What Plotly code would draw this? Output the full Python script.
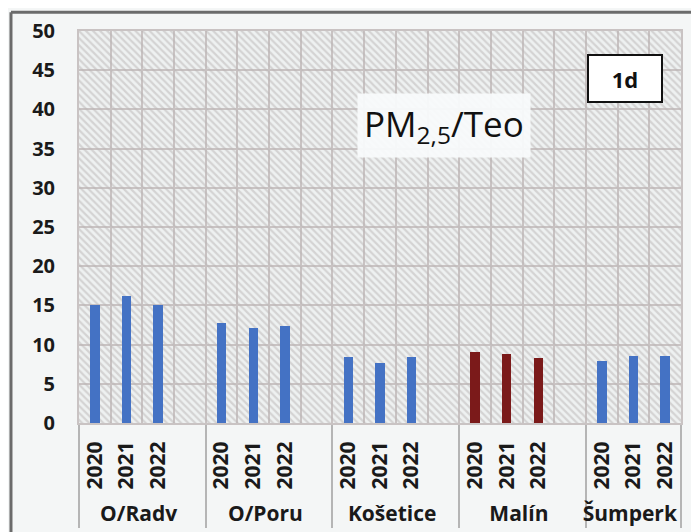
import plotly.graph_objects as go

stations = ["O/Radv", "O/Poru", "Košetice", "Malín", "Šumperk"]
years = ["2020", "2021", "2022"]
radv_vals = [15.1, 16.2, 15.0]
poru_vals = [12.8, 12.1, 12.4]
kosetice_vals = [8.4, 7.6, 8.4]
malin_vals = [9.1, 8.8, 8.3]
sumperk_vals = [7.95, 8.5, 8.5]
station_vals = [radv_vals, poru_vals, kosetice_vals, malin_vals, sumperk_vals]
y_ticks = [0, 5, 10, 15, 20, 25, 30, 35, 40, 45, 50]

BLUE = "#4472C4"
DARK_RED = "#7B1A1A"
station_colors = [BLUE, BLUE, BLUE, DARK_RED, BLUE]

lvl1, lvl2, vals, cols = [], [], [], []
for i, st in enumerate(stations):
    for j, yr in enumerate(years):
        lvl1.append(st); lvl2.append(yr)
        vals.append(station_vals[i][j]); cols.append(station_colors[i])
    if i < len(stations) - 1:
        lvl1.append(st); lvl2.append(" ")
        vals.append(None); cols.append(BLUE)

n = len(lvl1)
GRID = "#c9c3c3"

fig = go.Figure()
# hatched plot background
fig.add_trace(go.Bar(
    x=[lvl1, lvl2], y=[y_ticks[-1]] * n, width=[1.0] * n,
    marker=dict(color="rgba(0,0,0,0)", line=dict(width=0),
                pattern=dict(shape="\\", fgcolor="#bab5b5", size=5,
                             solidity=0.45, fillmode="overlay")),
    hoverinfo="skip", showlegend=False))
fig.add_trace(go.Bar(
    x=[lvl1, lvl2], y=vals, width=0.3,
    marker=dict(color=cols, line=dict(width=0)),
    showlegend=False))

# page body has an 8px margin, so the figure is 8px smaller than the window
fig.update_layout(
    width=691, height=524,
    margin=dict(l=71, r=18, t=23, b=109),
    paper_bgcolor="#f4f6f6", plot_bgcolor="#eef1f1",
    barmode="overlay", bargap=0,
    font=dict(family="Open Sans", color="#1a1a1a"),
)
fig.update_xaxes(
    type="multicategory", range=[-0.5, n - 0.5], automargin=False,
    showgrid=True, gridcolor=GRID, gridwidth=2, tickson="boundaries",
    showline=True, linecolor=GRID, linewidth=2, mirror=True,
    ticks="", tickangle=-90, ticklabelstandoff=8,
    tickfont=dict(family="Open Sans", size=21, color="#1a1a1a", weight="bold"),
    showdividers=True, dividercolor="#b5b5b5", dividerwidth=2,
)
fig.update_yaxes(
    range=[0, 50], tickvals=y_ticks, automargin=False,
    showgrid=True, gridcolor=GRID, gridwidth=2,
    showline=True, linecolor=GRID, linewidth=2, mirror=True,
    zeroline=False, ticks="", ticklabelstandoff=18,
    tickfont=dict(family="Open Sans", size=20, color="#1a1a1a", weight="bold"),
)

fig.add_annotation(
    xref="paper", yref="paper", x=0.606, y=0.76, showarrow=False,
    xanchor="center", yanchor="middle",
    text="PM<sub>2,5</sub>/Teo", font=dict(family="Open Sans", size=35, color="#111"),
    bgcolor="rgba(248,250,251,0.95)", borderpad=6)
fig.add_annotation(
    xref="paper", yref="paper", x=0.907, y=0.88, showarrow=False,
    xanchor="center", yanchor="middle",
    text="<b>1d</b>", font=dict(family="Open Sans", size=22, color="#111"),
    bgcolor="white", bordercolor="#111", borderwidth=2, width=70, height=43)

# outer frame lines (top and left)
fig.add_shape(type="line", xref="paper", yref="paper",
              x0=-0.113, x1=1.05, y0=1.048, y1=1.048,
              line=dict(color="#6b6b6b", width=3))
fig.add_shape(type="line", xref="paper", yref="paper",
              x0=-0.113, x1=-0.113, y0=1.048, y1=-0.3,
              line=dict(color="#6b6b6b", width=3))

fig.write_html("out.html")
